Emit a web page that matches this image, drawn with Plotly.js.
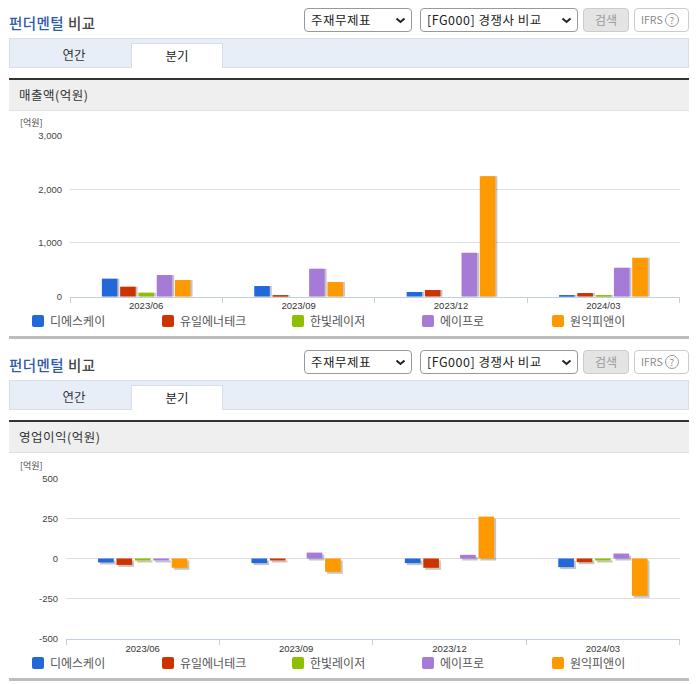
<!DOCTYPE html>
<html><head><meta charset="utf-8">
<script src="https://cdn.plot.ly/plotly-3.0.1.min.js"></script>
<style>
html,body{margin:0;padding:0;background:#fff;width:696px;height:684px;overflow:hidden}
body{font-family:"Noto Sans CJK KR",sans-serif;color:#333;position:relative}
.a{position:absolute;box-sizing:border-box;white-space:nowrap}
.sel{border:1px solid #999;border-radius:4px;background:#fff;font-size:12.5px;line-height:22px;padding-left:6px;letter-spacing:.5px;color:#222}
.sel svg{position:absolute;right:5px;top:8px}
.plot{position:absolute;left:0;width:696px}
#p1 .barlayer{filter:drop-shadow(2px 0px 0.5px rgba(90,90,90,.35))}
#p2 .barlayer{filter:drop-shadow(2px 2px 0.5px rgba(90,90,90,.35))}
.plot .legend .legendtext{transform:translateX(-8px)}
.plot .legend .legendpoints path{d:path("M-4,-6H4A2,2 0 0 1 6,-4V4A2,2 0 0 1 4,6H-4A2,2 0 0 1 -6,4V-4A2,2 0 0 1 -4,-6Z")}
</style></head><body>
<div id="p1" class="plot" style="top:110px;height:230px"></div>
<div id="p2" class="plot" style="top:452px;height:232px"></div>
<script>
const periods = ['2023/06','2023/09','2023/12','2024/03'];
const companies = ['디에스케이','유일에너테크','한빛레이저','에이프로','원익피앤이'];
const colors = ['#2268d8','#cc3300','#8cc000','#a67bd8','#ff9900'];
// 매출액(억원)
const salesDsk = [335,198,87,30];
const salesUil = [186,30,124,68];
const salesHanbit = [74,0,0,30];
const salesApro = [403,520,817,538];
const salesWonik = [310,272,2240,724];
// 영업이익(억원)
const opDsk = [-25,-29,-29,-54];
const opUil = [-40,-8,-58,-23];
const opHanbit = [-8,0,0,-8];
const opApro = [-8,37,23,31];
const opWonik = [-58,-83,262,-233];
const sectionTitles = ['매출액(억원)','영업이익(억원)'];

function chrome(off,label){
  const h=[];
  const add=(l,t,w,ht,style,inner='',cls='')=>h.push(`<div class="a ${cls}" style="left:${l}px;top:${t+off}px;width:${w}px;height:${ht}px;${style}">${inner}</div>`);
  const chev='<svg width="11" height="7" viewBox="0 0 11 7"><polyline points="1.5,1.5 5.5,5 9.5,1.5" fill="none" stroke="#222" stroke-width="2"/></svg>';
  add(9,13,120,20,'font-size:14.5px;font-weight:500;line-height:20px;letter-spacing:.45px','<span style="color:#2f5aa8">펀더멘털</span> <span style="color:#444">비교</span>');
  add(304,8,108,24,'','주재무제표'+chev,'sel');
  add(420,8,158,24,'','[FG000] 경쟁사 비교'+chev,'sel');
  add(583,8,46,24,'background:#e4e4e4;border:1px solid #ccc;border-radius:4px;color:#999;font-size:12px;line-height:22px;text-align:center','검색');
  add(634,8,55,24,'background:#fff;border:1px solid #ccc;border-radius:4px;color:#888;font-size:10.5px;line-height:22px;padding-left:6px','IFRS <span style="display:inline-block;width:14px;height:14px;border:1px solid #999;border-radius:50%;line-height:13px;text-align:center;font-size:9px;box-sizing:border-box">?</span>');
  add(9,38,680,30,'background:#e8eef8;border:1px solid #d6deea');
  add(131,43,92,25,'background:#fff;border:1px solid #d6deea;border-bottom:none;font-size:12.5px;line-height:24px;text-align:center;color:#222','분기');
  add(9,43,130,25,'font-size:12.5px;line-height:24px;text-align:center;color:#333','연간');
  add(9,78,680,2,'background:#333');
  add(9,80,680,31,'background:#efefef;border-bottom:1px solid #e0e0e0;font-size:12.5px;line-height:30px;padding-left:10px;letter-spacing:.5px;color:#333',label);
  add(9,336,680,2.5,'background:#bdbdbd');
  document.body.insertAdjacentHTML('beforeend',h.join(''));
}
chrome(0,sectionTitles[0]);
chrome(342,sectionTitles[1]);

const digitFont='"Liberation Sans",sans-serif';
function draw(id,series,tickvals,ticktext,range,l,t,plotH,height,legendCenter,xStandoff){
  const W=696,right=679.6;
  const traces=series.map((y,i)=>({type:'bar',x:periods,y:y,name:companies[i],marker:{color:colors[i],line:{width:0}},hoverinfo:'x+y+name'}));
  const layout={
    width:W,height:height,paper_bgcolor:'rgba(0,0,0,0)',plot_bgcolor:'rgba(0,0,0,0)',
    margin:{l:0,r:0,t:0,b:0,pad:0},
    barmode:'group',bargap:0.4,bargroupgap:0.15,
    font:{family:'"Noto Sans CJK KR",sans-serif',color:'#444',size:9},
    xaxis:{domain:[l/W,right/W],type:'category',tickson:'boundaries',ticks:'outside',ticklen:5,tickcolor:'#c0d0e0',showline:true,linecolor:'#c0d0e0',linewidth:1,showgrid:false,zeroline:false,tickfont:{family:digitFont,size:9.5,color:'#333'},ticklabelstandoff:xStandoff},
    yaxis:{domain:[1-(t+plotH)/height,1-t/height],range:range,tickvals:tickvals,ticktext:ticktext,showgrid:true,gridcolor:'#dfdfdf',gridwidth:1,zeroline:false,showline:false,ticks:'',tickfont:{family:digitFont,size:9.5,color:'#444'},ticklabelstandoff:7},
    showlegend:true,
    legend:{orientation:'h',x:18/W,xanchor:'left',y:1-legendCenter/height,yanchor:'middle',entrywidth:85,entrywidthmode:'pixels',itemclick:false,itemdoubleclick:false,font:{size:12,color:'#555'},traceorder:'normal',bgcolor:'rgba(0,0,0,0)',itemwidth:30},
    annotations:[{text:'[억원]',xref:'paper',yref:'paper',x:17.5/W,y:1-(t-13)/height,xanchor:'left',yanchor:'middle',showarrow:false,font:{size:9,color:'#444'}}]
  };
  Plotly.newPlot(id,traces,layout,{displayModeBar:false,responsive:false});
}
draw('p1',[salesDsk,salesUil,salesHanbit,salesApro,salesWonik],[0,1000,2000,3000],['0','1,000','2,000','3,000'],[0,3000],70,25.5,161.2,230,211,0);
draw('p2',[opDsk,opUil,opHanbit,opApro,opWonik],[-500,-250,0,250,500],['-500','-250','0','250','500'],[-500,500],66,26.5,160,232,211,1);
</script>
</body></html>
